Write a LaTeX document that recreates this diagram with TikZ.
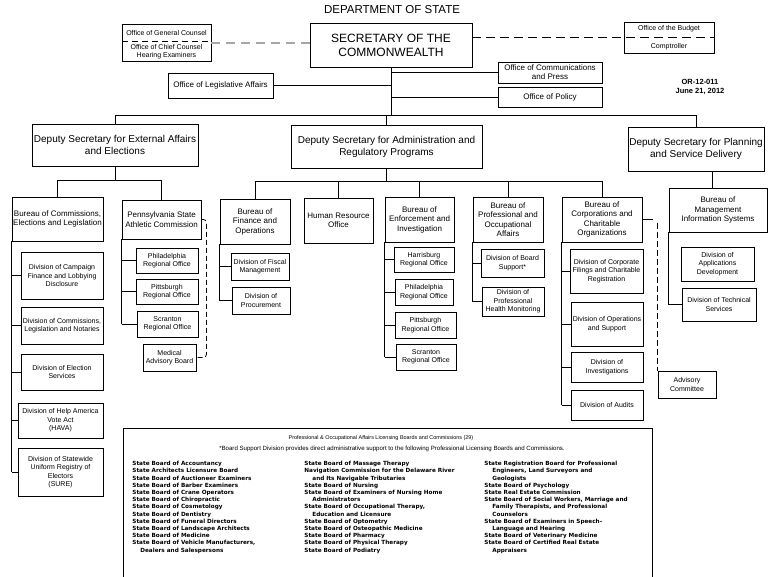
\documentclass[tikz,border=0pt]{standalone}
\usepackage{fontspec}
\setmainfont{Liberation Sans}
\newfontfamily\boardfont{DejaVu Sans}
\tikzset{
  box/.style={draw, line width=0.8pt, align=center, inner sep=1pt, font=\fontsize{8}{9.5}\selectfont},
  divbox/.style={box, font=\fontsize{7}{8.5}\selectfont},
  deputy/.style={box, font=\fontsize{10}{12}\selectfont},
  boardlist/.style={anchor=north west, align=left, inner sep=0pt, font=\boardfont\bfseries\fontsize{5.7}{7.2}\selectfont},
  smalltext/.style={inner sep=0pt, align=center, font=\fontsize{7}{8.5}\selectfont}
}
\begin{document}
\begin{tikzpicture}[x=1pt,y=-1pt,line width=0.8pt]
\clip (0,0) rectangle (771,576);
\fill[white] (0,0) rectangle (771,576);

\node[font=\fontsize{11.5}{13}\selectfont] (dept) at (392,10) {DEPARTMENT OF STATE};
\node[box, minimum width=162, minimum height=44, font=\fontsize{12}{14}\selectfont] (sec) at (391,45) {SECRETARY OF THE\\COMMONWEALTH};

\node[box, minimum width=89, minimum height=37] (gc) at (166.5,42.5) {};
\node[smalltext] (gctop) at (166.5,33) {Office of General Counsel};
\node[smalltext] (gcbot) at (166.5,51.5) {Office of Chief Counsel\\Hearing Examiners};
\draw[dash pattern=on 6pt off 4pt] (122,41) -- (211,41);

\node[box, minimum width=90, minimum height=31] (budget) at (669,37.5) {};
\node[smalltext] (budtop) at (669,29) {Office of the Budget};
\node[smalltext] (budbot) at (669,47) {Comptroller};

\node[box, minimum width=105, minimum height=25] (leg) at (220.5,85.5) {Office of Legislative Affairs};
\node[box, minimum width=104, minimum height=21, font=\fontsize{8}{9}\selectfont] (comm) at (550,72.5) {Office of Communications\\and Press};
\node[box, minimum width=104, minimum height=20] (policy) at (550,97) {Office of Policy};
\node[align=center, font=\bfseries\fontsize{7.5}{9}\selectfont] (orno) at (700,86.5) {OR-12-011\\June 21, 2012};

\draw[gray!70, line width=2pt, dash pattern=on 9pt off 6pt] (gc.east) -- (gc.east -| sec.west);
\draw[dash pattern=on 9pt off 5pt] (sec.east |- budget.center) -- (budget.east);

\coordinate (top) at (391,115);
\draw (sec.south) -- (top);
\draw (leg.east) -- (leg.east -| sec.south);
\draw (comm.west) -- (comm.west -| sec.south);
\draw (policy.west) -- (policy.west -| sec.south);

\node[deputy, minimum width=166, minimum height=42] (dext) at (115,145) {Deputy Secretary for External Affairs\\and Elections};
\node[deputy, minimum width=191, minimum height=43] (dadm) at (386.5,146.5) {Deputy Secretary for Administration and\\Regulatory Programs};
\node[deputy, minimum width=136, minimum height=44] (dplan) at (696,149) {Deputy Secretary for Planning\\and Service Delivery};

\draw (dext.north |- top) -- (dplan.north |- top);
\foreach \n in {dext,dadm,dplan}
  \draw (\n.north) -- (\n.north |- top);

% external affairs
\coordinate (extbus) at (115,180);
\node[box, minimum width=91, minimum height=44] (bcel) at (57.5,219) {Bureau of Commissions,\\Elections and Legislation};
\node[box, minimum width=79, minimum height=39] (psac) at (161.5,219.5) {Pennsylvania State\\Athletic Commission};
\draw (dext.south) -- (extbus);
\draw (bcel.north |- extbus) -- (psac.north |- extbus);
\foreach \n in {bcel,psac}
  \draw (\n.north) -- (\n.north |- extbus);

\node[divbox, minimum width=82, minimum height=47] (dcf) at (62,275.5) {Division of Campaign\\Finance and Lobbying\\Disclosure};
\node[divbox, minimum width=82, minimum height=37] (dcl) at (62,325.5) {Division of Commissions,\\Legislation and Notaries};
\node[divbox, minimum width=82, minimum height=36] (des) at (62,372) {Division of Election\\Services};
\node[divbox, minimum width=85, minimum height=35] (dhava) at (60.5,420.5) {Division of Help America\\Vote Act\\(HAVA)};
\node[divbox, minimum width=85, minimum height=48] (dsure) at (60.5,472) {Division of Statewide\\Uniform Registry of\\Electors\\(SURE)};
\draw (bcel.south west) -- (bcel.south west |- dsure.west);
\foreach \n in {dcf,dcl,des,dhava,dsure}
  \draw (bcel.south west |- \n.west) -- (\n.west);

\node[divbox, minimum width=62, minimum height=25] (phA) at (167,260.5) {Philadelphia\\Regional Office};
\node[divbox, minimum width=62, minimum height=25] (ptA) at (167,291.5) {Pittsburgh\\Regional Office};
\node[divbox, minimum width=61, minimum height=26] (scA) at (167.5,324) {Scranton\\Regional Office};
\node[divbox, minimum width=53, minimum height=27] (mab) at (169.5,357.5) {Medical\\Advisory Board};
\draw (psac.south west) -- (psac.south west |- scA.west);
\foreach \n in {phA,ptA,scA}
  \draw (psac.south west |- \n.west) -- (\n.west);
\draw[dash pattern=on 5pt off 3pt, rounded corners=3pt] (psac.east) -- ++(5,0) |- (mab.east);

% administration
\coordinate (admbus) at (386.5,181);
\node[box, minimum width=70, minimum height=45] (bfo) at (255,221.5) {Bureau of\\Finance and\\Operations};
\node[box, minimum width=69, minimum height=45] (hro) at (338.5,220.5) {Human Resource\\Office};
\node[box, minimum width=69, minimum height=45] (bei) at (419.5,219.5) {Bureau of\\Enforcement and\\Investigation};
\node[box, minimum width=70, minimum height=45] (bpoa) at (508,219.5) {Bureau of\\Professional and\\Occupational\\Affairs};
\node[box, minimum width=80, minimum height=45] (bcco) at (602,219.5) {Bureau of\\Corporations and\\Charitable\\Organizations};
\draw (dadm.south) -- (admbus);
\draw (bfo.north |- admbus) -- (bcco.north |- admbus);
\foreach \n in {bfo,hro,bei,bpoa,bcco}
  \draw (\n.north) -- (\n.north |- admbus);

\node[divbox, minimum width=58, minimum height=27] (dfm) at (260,266.5) {Division of Fiscal\\Management};
\node[divbox, minimum width=58, minimum height=27] (dproc) at (261,300.5) {Division of\\Procurement};
\draw (bfo.south west) -- (bfo.south west |- dproc.west);
\foreach \n in {dfm,dproc}
  \draw (bfo.south west |- \n.west) -- (\n.west);

\node[divbox, minimum width=60, minimum height=25] (hbg) at (424,259.5) {Harrisburg\\Regional Office};
\node[divbox, minimum width=58, minimum height=26] (phB) at (424,292) {Philadelphia\\Regional Office};
\node[divbox, minimum width=61, minimum height=26] (ptB) at (425.5,325) {Pittsburgh\\Regional Office};
\node[divbox, minimum width=60, minimum height=26] (scB) at (426,357) {Scranton\\Regional Office};
\draw (bei.south west) -- (bei.south west |- scB.west);
\foreach \n in {hbg,phB,ptB,scB}
  \draw (bei.south west |- \n.west) -- (\n.west);

\node[divbox, minimum width=63, minimum height=28] (dbs) at (512.5,263) {Division of Board\\Support*};
\node[divbox, minimum width=62, minimum height=29] (dphm) at (513,301.5) {Division of\\Professional\\Health Monitoring};
\draw (bpoa.south west) -- (bpoa.south west |- dphm.west);
\foreach \n in {dbs,dphm}
  \draw (bpoa.south west |- \n.west) -- (\n.west);

\node[divbox, minimum width=73, minimum height=44] (dcfc) at (606.5,271) {Division of Corporate\\Filings and Charitable\\Registration};
\node[divbox, minimum width=72, minimum height=44] (dos) at (607,324) {Division of Operations\\and Support};
\node[divbox, minimum width=72, minimum height=30] (dinv) at (607,367) {Division of\\Investigations};
\node[divbox, minimum width=72, minimum height=30] (daud) at (607,405) {Division of Audits};
\draw (bcco.south west) -- (bcco.south west |- daud.west);
\foreach \n in {dcfc,dos,dinv,daud}
  \draw (bcco.south west |- \n.west) -- (\n.west);

\node[divbox, minimum width=58, minimum height=27] (adv) at (687,384.5) {Advisory\\Committee};
\draw (bcco.east) -- ++(11,0);
\draw[dash pattern=on 6pt off 3pt] ([yshift=-3pt]adv.north west |- bcco.east) -- (adv.north west);

% planning
\node[box, minimum width=98, minimum height=44] (bmis) at (718,210) {Bureau of\\Management\\Information Systems};
\draw ([xshift=-6pt]bmis.north) -- ([xshift=-6pt]bmis.north |- dplan.south);
\node[divbox, minimum width=73, minimum height=34] (dapd) at (717.5,264) {Division of\\Applications\\Development};
\node[divbox, minimum width=74, minimum height=33] (dts) at (719,304.5) {Division of Technical\\Services};
\draw (bmis.south west) -- (bmis.south west |- dts.west);
\draw (bmis.south west |- dts.west) -- (dts.west);

% licensing boards
\node[draw, minimum width=529, minimum height=160, anchor=north west, inner sep=0pt] (boards) at (123,428) {};
\node[inner sep=0pt, font=\fontsize{5.45}{6}\selectfont] (btitle) at (381,438) {Professional \& Occupational Affairs Licensing Boards and Commissions (29)};
\node[inner sep=0pt, font=\fontsize{6.1}{7}\selectfont] (bnote) at (392,449) {*Board Support Division provides direct administrative support to the following Professional Licensing Boards and Commissions.};
\node[boardlist] (colA) at (132,461) {State Board of Accountancy\\
State Architects Licensure Board\\
State Board of Auctioneer Examiners\\
State Board of Barber Examiners\\
State Board of Crane Operators\\
State Board of Chiropractic\\
State Board of Cosmetology\\
State Board of Dentistry\\
State Board of Funeral Directors\\
State Board of Landscape Architects\\
State Board of Medicine\\
State Board of Vehicle Manufacturers,\\
\hspace*{8pt}Dealers and Salespersons};
\node[boardlist] (colB) at (304,461) {State Board of Massage Therapy\\
Navigation Commission for the Delaware River\\
\hspace*{8pt}and Its Navigable Tributaries\\
State Board of Nursing\\
State Board of Examiners of Nursing Home\\
\hspace*{8pt}Administrators\\
State Board of Occupational Therapy,\\
\hspace*{8pt}Education and Licensure\\
State Board of Optometry\\
State Board of Osteopathic Medicine\\
State Board of Pharmacy\\
State Board of Physical Therapy\\
State Board of Podiatry};
\node[boardlist] (colC) at (484,461) {State Registration Board for Professional\\
\hspace*{8pt}Engineers, Land Surveyors and\\
\hspace*{8pt}Geologists\\
State Board of Psychology\\
State Real Estate Commission\\
State Board of Social Workers, Marriage and\\
\hspace*{8pt}Family Therapists, and Professional\\
\hspace*{8pt}Counselors\\
State Board of Examiners in Speech-\\
\hspace*{8pt}Language and Hearing\\
State Board of Veterinary Medicine\\
State Board of Certified Real Estate\\
\hspace*{8pt}Appraisers};

\end{tikzpicture}
\end{document}
